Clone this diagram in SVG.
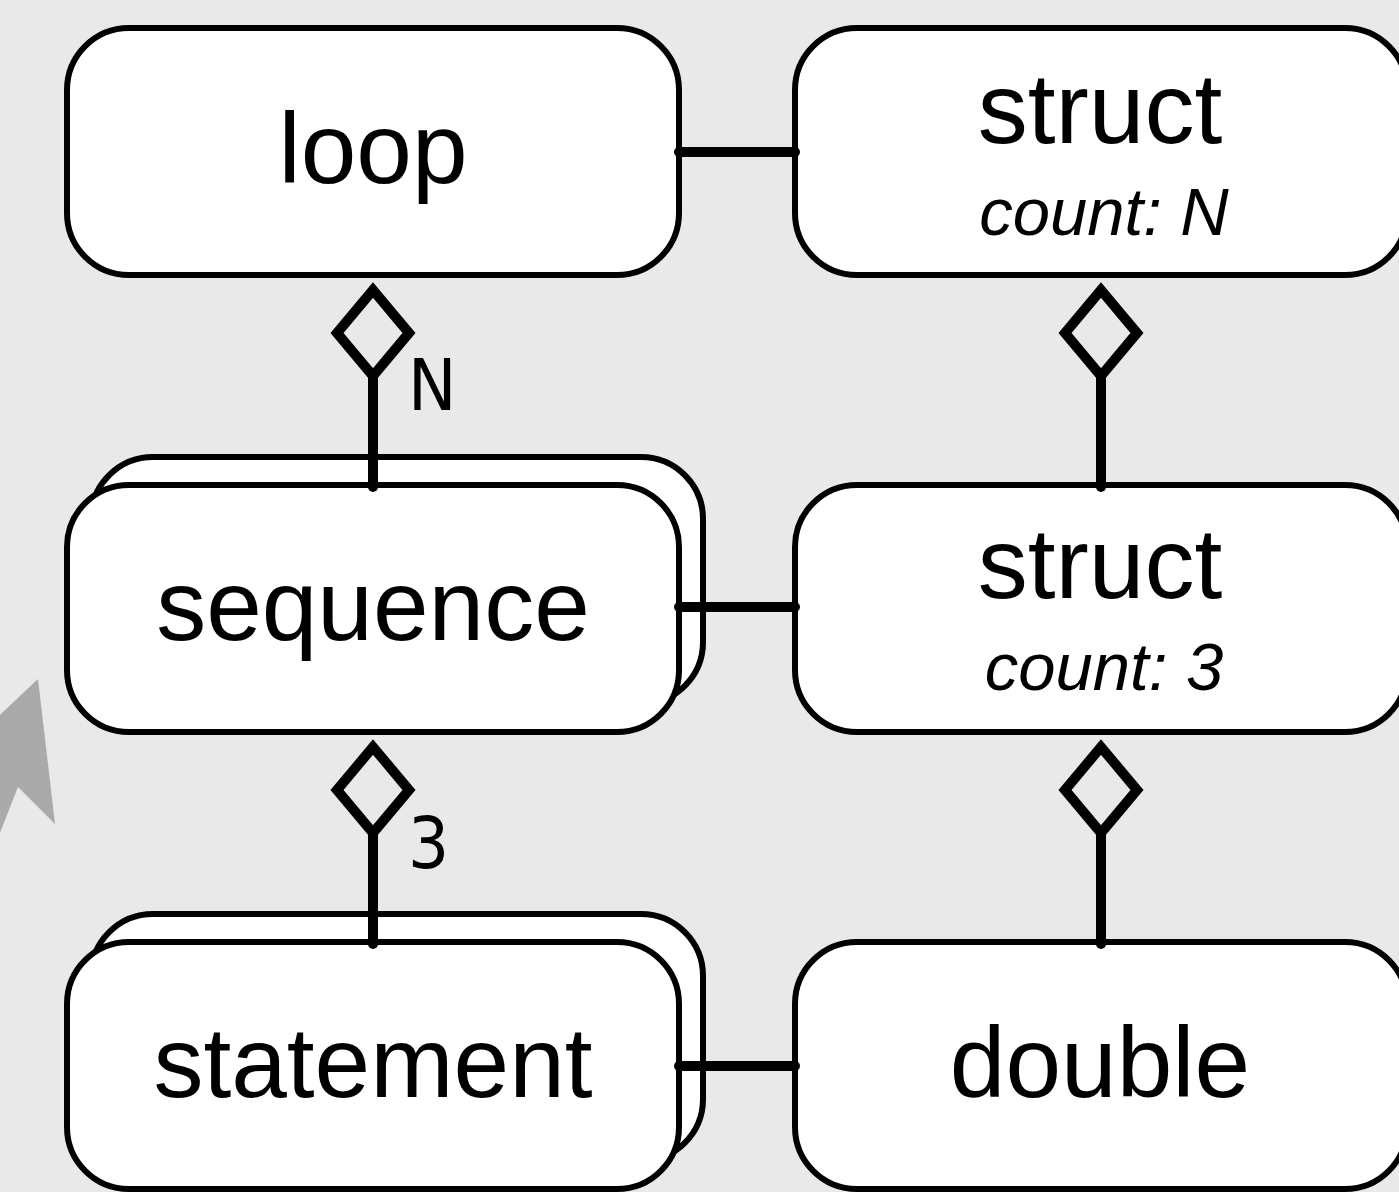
<svg xmlns="http://www.w3.org/2000/svg" width="1399" height="1192" viewBox="0 0 1399 1192">
  <style>
    .box { fill: #ffffff; stroke: #000000; stroke-width: 6; }
    .link { fill: none; stroke: #000000; stroke-width: 10; stroke-linecap: round; }
    .diamond { fill: none; stroke: #000000; stroke-width: 10; stroke-linejoin: miter; }
    .title { font-family: "Liberation Sans", Arial, sans-serif; font-size: 100px; text-anchor: middle; fill: #000000; }
    .attr { font-family: "Liberation Sans", Arial, sans-serif; font-size: 67px; font-style: italic; text-anchor: middle; fill: #000000; }
    .mult { font-family: "DejaVu Sans Condensed", "DejaVu Sans", sans-serif; font-size: 72px; fill: #000000; }
  </style>

  <rect x="0" y="0" width="1399" height="1192" fill="#e9e9e9"/>

  <!-- partially visible arrowhead at the left edge -->
  <polygon points="38,679 55,824 18,787 -10,858 -10,724" fill="#aaaaaa"/>

  <g id="node-loop">
    <rect class="box" x="67" y="28" width="612" height="247" rx="62" ry="62"/>
    <text class="title" x="373" y="183">loop</text>
  </g>

  <g id="node-struct-n">
    <rect class="box" x="795" y="28" width="612" height="247" rx="62" ry="62"/>
    <text class="title" x="1100" y="143">struct</text>
    <text class="attr" x="1104" y="235">count: N</text>
  </g>

  <g id="node-sequence">
    <rect class="box" x="91" y="457" width="612" height="247" rx="62" ry="62"/>
    <rect class="box" x="67" y="485" width="612" height="247" rx="62" ry="62"/>
    <text class="title" x="373" y="640">sequence</text>
  </g>

  <g id="node-struct-3">
    <rect class="box" x="795" y="485" width="612" height="247" rx="62" ry="62"/>
    <text class="title" x="1100" y="598">struct</text>
    <text class="attr" x="1104" y="690">count: 3</text>
  </g>

  <g id="node-statement">
    <rect class="box" x="91" y="914" width="612" height="247" rx="62" ry="62"/>
    <rect class="box" x="67" y="942" width="612" height="247" rx="62" ry="62"/>
    <text class="title" x="373" y="1097">statement</text>
  </g>

  <g id="node-double">
    <rect class="box" x="795" y="942" width="612" height="247" rx="62" ry="62"/>
    <text class="title" x="1100" y="1097">double</text>
  </g>

  <g id="connectors">
    <!-- associations -->
    <line class="link" x1="679" y1="152" x2="795" y2="152"/>
    <line class="link" x1="679" y1="607" x2="795" y2="607"/>
    <line class="link" x1="679" y1="1066" x2="795" y2="1066"/>

    <!-- aggregations: loop / sequence -->
    <polygon class="diamond" points="373,290 337,333 373,376 409,333"/>
    <line class="link" x1="373" y1="376" x2="373" y2="487"/>
    <text class="mult" x="408" y="410">N</text>

    <!-- sequence / statement -->
    <polygon class="diamond" points="373,747 337,790 373,833 409,790"/>
    <line class="link" x1="373" y1="833" x2="373" y2="944"/>
    <text class="mult" x="408" y="868">3</text>

    <!-- struct N / struct 3 -->
    <polygon class="diamond" points="1101,290 1065,333 1101,376 1137,333"/>
    <line class="link" x1="1101" y1="376" x2="1101" y2="487"/>

    <!-- struct 3 / double -->
    <polygon class="diamond" points="1101,747 1065,790 1101,833 1137,790"/>
    <line class="link" x1="1101" y1="833" x2="1101" y2="944"/>
  </g>
</svg>
